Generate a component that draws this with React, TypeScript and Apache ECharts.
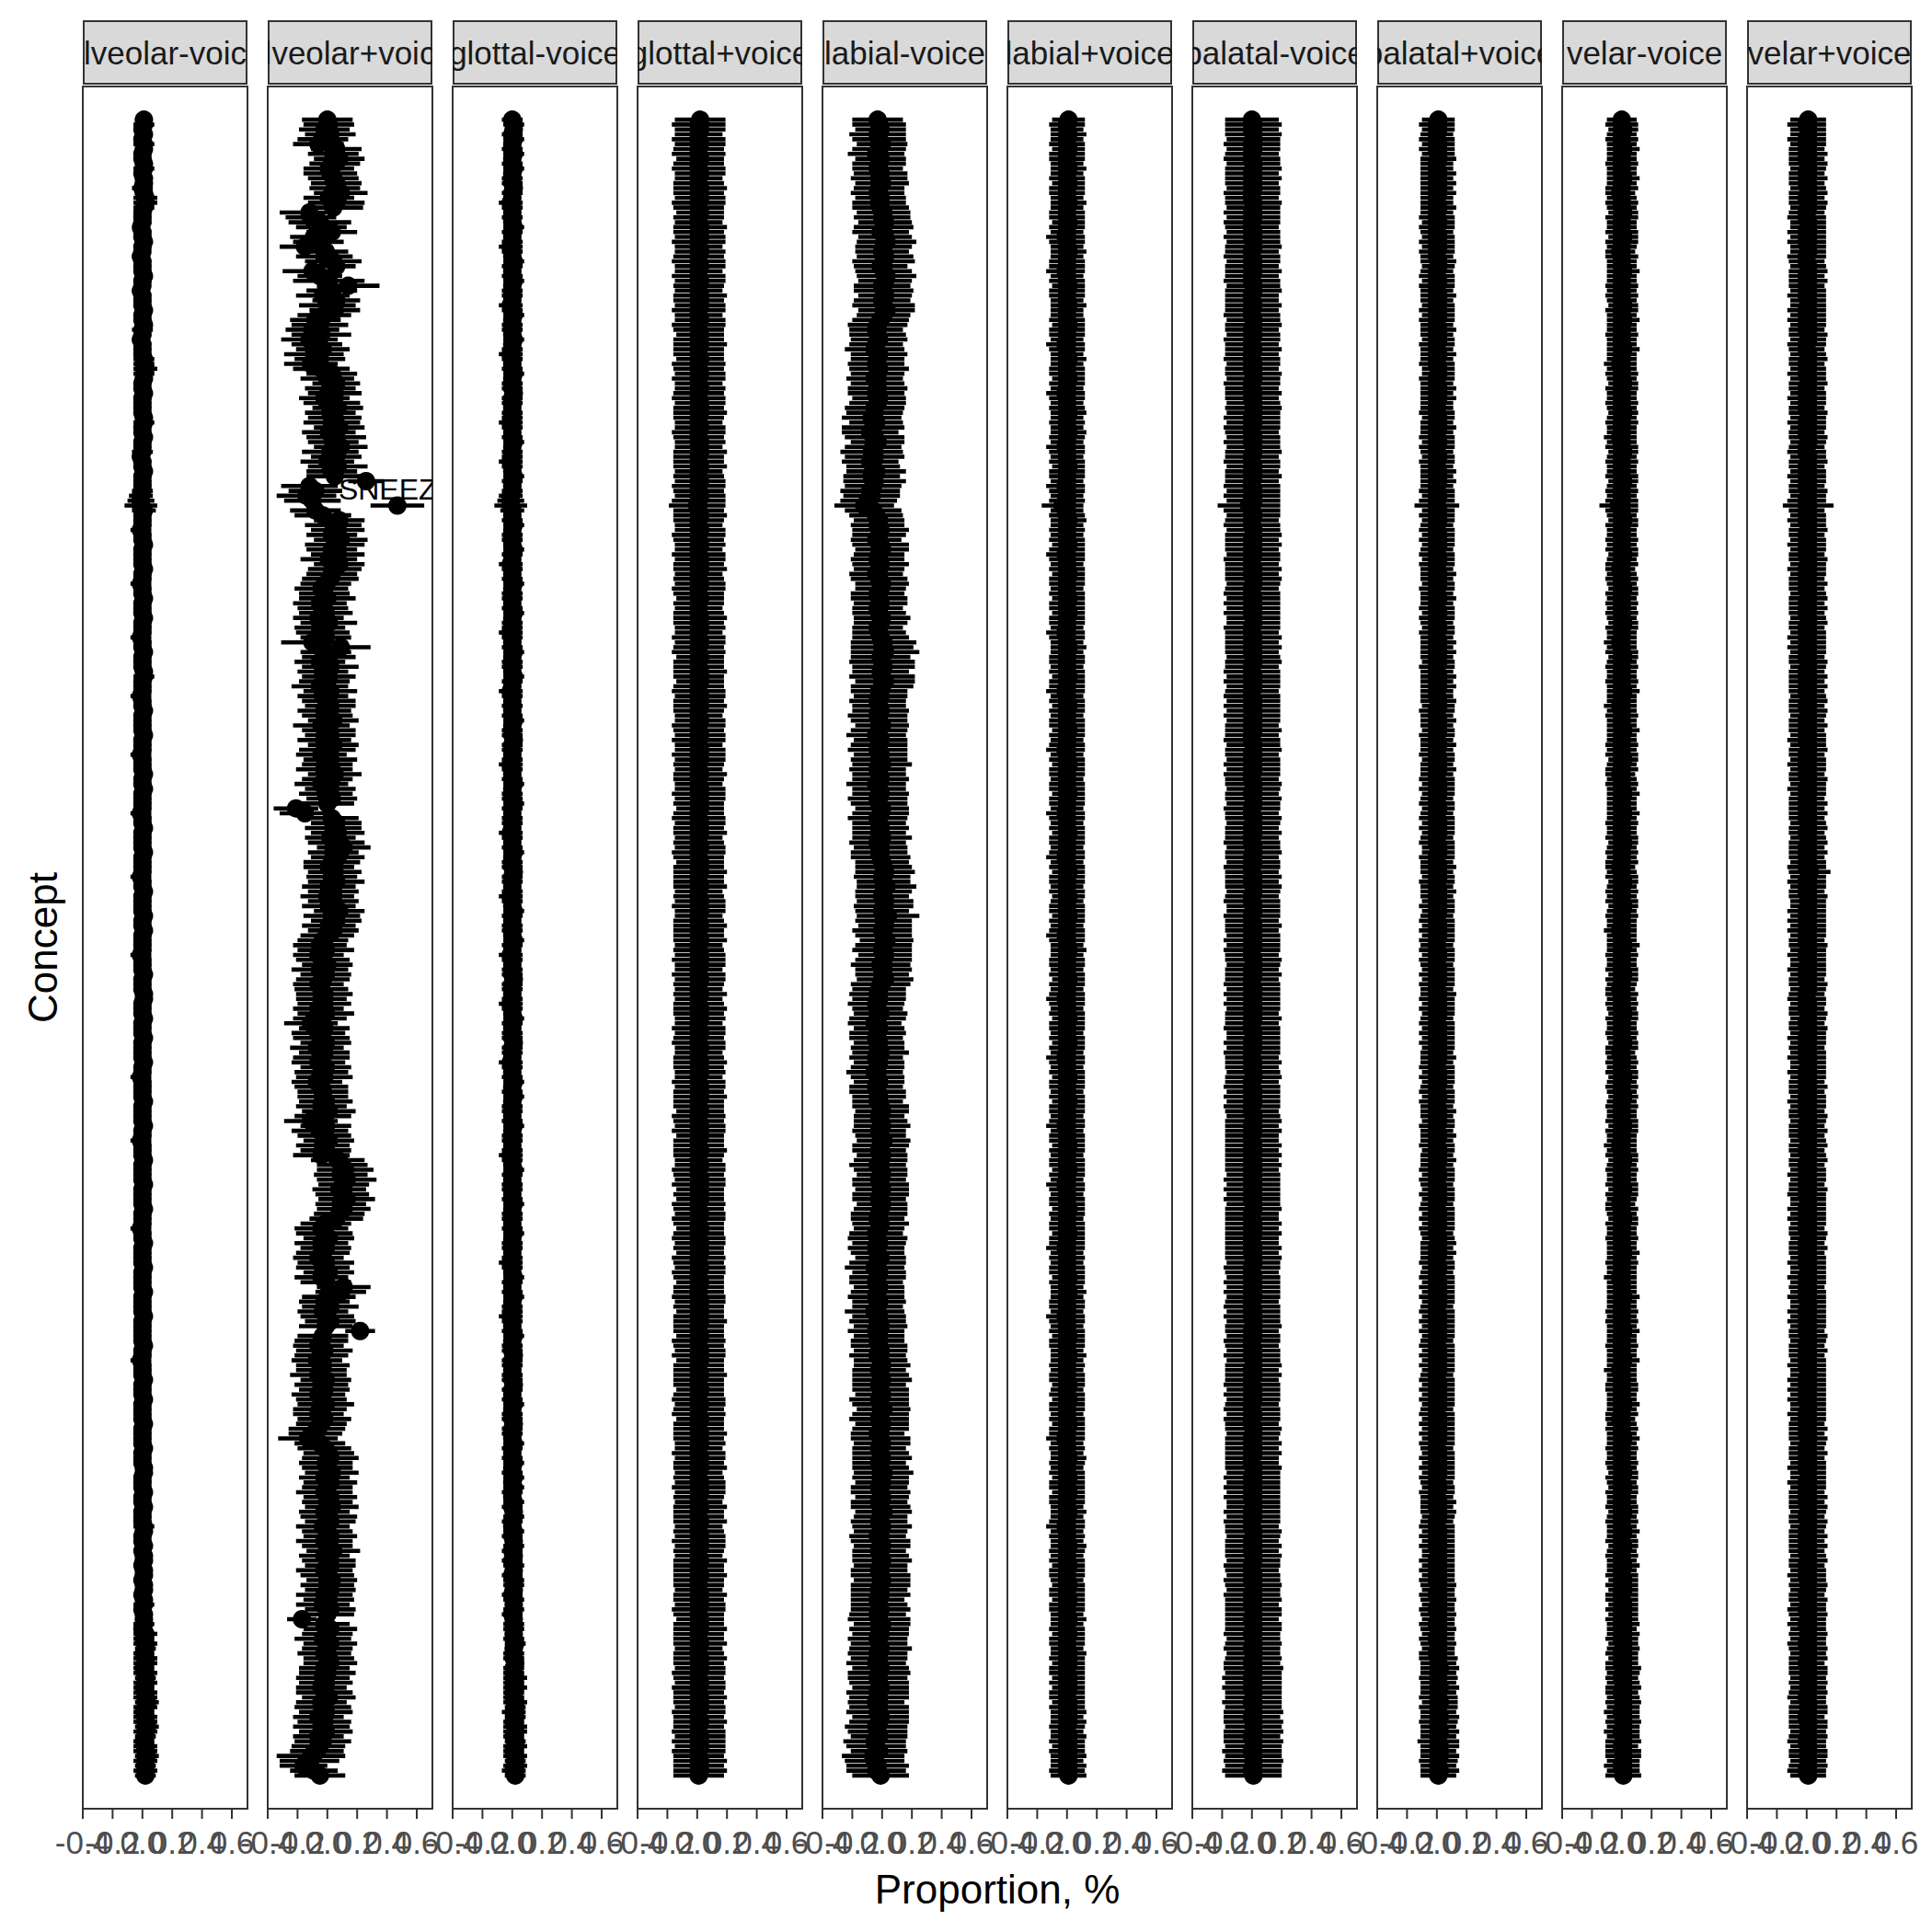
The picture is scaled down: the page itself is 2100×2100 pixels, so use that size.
import React, { useEffect, useRef } from "react";
import * as echarts from "echarts";

// Facet (panel) names, left to right
const facets = [
  "alveolar-voice", "alveolar+voice", "glottal-voice", "glottal+voice", "labial-voice",
  "labial+voice", "palatal-voice", "palatal+voice", "velar-voice", "velar+voice",
];
const xTicks = [-0.4, -0.2, 0, 0.2, 0.4, 0.6];
const labelText = "SNEEZE";
const labelFacet = 1;
const labelRow = 79;

// Per-concept estimates (hundredths): c = point estimate, h = half-width of the interval.
// Rows are concepts from top to bottom.
const c1 = [
  1,1,0,1,0, 1,1,0,0,1, 1,0,1,1,0, 1,2,2,1,0,
  0,0,-1,0,0, 1,0,0,-1,0, 0,0,1,0,0, -1,0,0,0,1,
  0,0,1,0,0, -1,0,0,0,1, 1,2,1,1,0, 0,1,0,0,0,
  0,1,1,0,0, 1,0,0,0,-1, 0,0,1,0,0, 0,0,-1,-1,-1,
  1,0,0,0,-1, 0,0,1,0,0, 0,0,1,0,0, -1,0,0,1,0,
  0,0,1,0,0, 0,-1,0,0,1, 0,0,0,1,1, 0,0,0,-1,0,
  0,1,0,0,0, 0,1,0,0,0, -1,0,0,0,1, 0,0,1,0,0,
  0,0,-1,0,0, 1,0,0,0,0, 1,0,0,0,0, -1,0,0,1,0,
  0,0,0,1,0, 0,1,0,0,0, 0,-1,0,0,0, 1,0,0,0,1,
  1,0,0,0,1, 0,0,0,1,0, 0,0,0,1,0, 0,-1,0,0,0,
  0,1,0,0,0, 0,1,0,0,-1, 0,0,0,1,0, 0,0,0,1,0,
  0,0,0,1,0, 0,0,-1,0,0, 1,0,0,0,0, 1,0,0,0,0,
  1,0,0,0,0, 1,0,0,0,0, 0,1,0,0,-1, 0,0,0,1,0,
  0,0,1,0,0, 0,0,1,0,0, 0,0,1,0,0, 0,1,1,0,0,
  0,1,0,0,1, 0,0,0,1,1, 0,0,1,0,1, 1,0,1,1,0,
  1,1,0,1,1, 0,1,1,1,0, 2,1,2,2,1, 2,2,1,2,2,
  2,1,2,2,3, 2,1,2,2,3, 2,2,1,2,2, 3,2,2,2,2,
];
const h1 = [
  6,7,6,6,6, 7,6,6,6,6, 7,6,6,6,7, 6,8,8,7,6,
  6,6,5,6,6, 6,6,5,6,6, 6,6,6,6,5, 6,6,6,6,6,
  6,6,6,7,6, 6,6,6,6,7, 7,8,7,6,6, 6,6,6,6,6,
  6,6,7,6,6, 6,6,6,7,6, 6,6,6,6,6, 6,7,8,9,11,
  8,6,6,6,7, 6,6,6,6,6, 6,6,6,6,6, 7,6,6,6,6,
  6,6,6,6,6, 6,7,6,6,6, 6,6,6,6,7, 6,6,6,7,6,
  6,6,6,6,6, 6,6,6,6,6, 7,6,6,6,6, 6,6,6,6,6,
  6,6,7,6,6, 6,6,6,6,6, 6,6,6,6,6, 7,6,6,6,6,
  6,6,6,6,6, 6,6,6,6,6, 6,7,6,6,6, 6,6,6,6,6,
  6,6,6,6,6, 6,6,6,6,6, 6,6,6,6,6, 6,7,6,6,6,
  6,6,6,6,6, 6,6,6,6,7, 6,6,6,6,6, 6,6,6,6,6,
  6,6,6,6,6, 6,6,7,6,6, 6,6,6,6,6, 6,6,6,6,6,
  6,6,6,6,6, 6,6,6,6,6, 6,6,6,6,7, 6,6,6,6,6,
  6,6,6,6,6, 6,6,6,6,6, 6,6,6,6,6, 6,6,6,6,6,
  6,6,6,6,6, 6,6,6,7,6, 6,6,6,6,6, 6,6,6,6,6,
  6,6,6,6,7, 6,6,6,7,6, 8,7,8,7,7, 8,8,7,8,7,
  8,7,8,8,8, 8,7,8,8,8, 8,7,7,8,8, 8,8,7,8,7,
];
const c2 = [
  0,1,-2,2,-3, -6,6,4,8,5, 1,2,4,6,5, 9,1,6,4,-12,
  -11,-5,-4,3,-9, -6,-15,-1,-2,4, 6,-10,-5,1,14, 3,-3,6,0,5,
  -2,-8,-5,-10,-4, -12,-7,-3,-9,-5, -11,-4,3,0,6, 2,5,-2,3,7,
  2,5,3,8,1, 6,4,9,2,6, 0,7,3,5,26, -12,-8,-14,-10,47,
  -8,-3,8,4,7, 3,9,5,3,7, 1,8,5,3,2, -1,-4,-2,0,-5,
  -3,-1,-6,1,-5, -3,-1,-10,9,-1, 1,-5,2,-3,1, -2,-5,2,-3,1,
  2,-2,0,4,-4, 1,2,-2,4,0, -4,2,0,-2,5, 0,-4,2,-1,3,
  0,-21,-15,3,6, 4,7,2,6,11, 4,7,3,1,5, 3,6,1,4,0,
  4,1,8,3,6, 1,4,0,-3,-5, -1,-6,-3,0,-5, -1,-3,-6,-4,-2,
  -4,-2,-6,-1,-5, -11,-2,-6,-4,-1, -7,-2,-4,-6,-1, -4,-2,-7,-4,-3,
  -3,-1,-4,1,-3, -11,-1,-5,-2,1, -3,-1,-4,7,10, 12,9,13,11,8,
  10,13,9,11,8, 6,-1,-4,-2,1, -4,-1,-3,-6,-1, -3,1,-4,-1,11,
  9,1,-2,2,-3, 0,2,-1,22,-3, -4,-6,-2,-4,-7, -3,-4,-6,-1,-4,
  -2,-6,-4,-1,-5, -6,-2,-4,-7,-8, -13,-5,-2,1,2, -1,0,3,-2,2,
  0,-2,2,0,3, -2,1,2,-3,0, 2,-2,0,4,-2, 1,2,-2,0,3,
  0,2,-2,1,-3, 2,0,-17,-2,2, 0,-3,2,0,-2, 1,2,-2,0,-3,
  -1,-4,-2,1,-4, -3,-1,-6,-2,-4, -1,-6,-3,-6,-7, -11,-12,-16,-9,-5,
];
const h2 = [
  17,17,17,17,17, 17,17,17,17,17, 17,18,17,17,17, 18,17,19,20,20,
  17,21,17,17,16, 17,17,15,19,19, 13,20,15,24,21, 17,18,16,19,17,
  18,17,19,18,20, 19,17,18,20,17, 18,19,17,18,16, 17,18,17,19,17,
  17,18,19,17,18, 20,17,18,19,17, 18,20,17,19,12, 19,18,20,19,18,
  17,19,17,19,18, 17,18,20,17,18, 19,17,18,17,19, 17,18,17,19,18,
  17,18,17,19,17, 18,17,21,20,17, 18,17,19,17,18, 17,19,18,17,18,
  17,18,17,17,19, 18,17,18,17,19, 17,18,17,19,18, 17,18,17,18,17,
  18,15,17,18,17, 19,18,17,19,18, 17,18,19,17,18, 17,19,18,17,18,
  17,18,17,19,17, 18,17,18,17,18, 19,17,18,17,19, 17,18,17,18,19,
  17,18,17,19,18, 18,17,18,19,17, 18,17,19,18,17, 18,19,17,18,17,
  17,18,17,18,19, 18,17,19,18,17, 18,17,19,18,17, 19,18,20,17,18,
  18,19,17,18,17, 18,17,18,19,17, 18,17,18,17,19, 18,17,18,17,18,
  17,18,17,19,17, 18,17,18,10,17, 18,17,19,18,17, 18,17,19,17,18,
  17,18,17,19,18, 17,18,17,19,18, 20,17,18,17,19, 18,17,18,17,18,
  17,19,18,17,18, 17,19,17,18,17, 18,19,17,18,17, 18,17,19,18,17,
  18,17,19,17,18, 17,18,10,17,18, 17,19,18,17,18, 17,18,17,19,18,
  18,17,19,18,17, 19,18,17,18,19, 18,17,19,18,18, 23,20,16,16,17,
];
const c3 = [
  0,1,1,0,1, 0,0,1,0,0, 1,0,0,0,1, 0,0,-1,0,0,
  0,0,1,0,0, 0,-1,0,0,1, 0,0,0,1,0, 0,0,0,-1,0,
  1,0,0,0,0, 1,0,0,-1,0, 0,0,1,0,0, 0,1,0,0,0,
  0,0,-1,0,0, 0,1,0,0,0, -1,0,0,1,0, 0,0,-1,-1,-1,
  0,0,0,1,0, 0,0,0,1,0, 0,-1,0,0,0, 1,0,0,0,0,
  0,1,0,0,0, -1,0,0,0,1, 0,0,0,0,1, 0,0,-1,0,0,
  0,0,0,1,0, 0,0,1,0,0, 0,0,-1,0,0, 0,1,0,0,0,
  1,0,0,0,0, 0,-1,0,0,0, 1,0,0,0,1, 0,0,0,0,-1,
  0,0,1,0,0, 0,0,0,1,0, 0,-1,0,0,0, 0,1,0,0,0,
  0,-1,0,0,1, 0,0,0,0,1, 0,0,0,-1,0, 0,0,1,0,0,
  1,0,0,0,0, 0,1,0,0,0, 0,0,-1,0,0, 1,0,0,0,0,
  0,0,1,0,0, 0,0,0,1,0, 0,0,0,0,-1, 0,0,1,0,0,
  0,1,0,0,0, -1,0,0,0,1, 0,0,0,1,0, 0,0,0,0,1,
  0,0,0,1,0, 0,0,1,0,0, 0,1,0,0,0, 1,0,0,1,0,
  1,0,0,1,0, 1,1,0,0,1, 0,1,1,0,1, 0,1,1,0,1,
  1,1,0,1,1, 1,0,1,1,1, 1,1,2,1,1, 1,2,1,1,2,
  1,2,1,1,2, 2,1,2,1,2, 2,1,2,2,1, 2,2,2,1,2,
];
const h3 = [
  7,7,6,7,7, 6,7,7,6,7, 7,6,7,7,6, 7,6,8,7,6,
  7,6,7,7,6, 7,8,7,6,7, 7,6,7,7,6, 7,7,6,8,7,
  7,6,7,7,6, 7,6,7,8,7, 6,7,7,6,7, 7,6,7,7,6,
  7,7,8,7,6, 7,7,6,7,7, 8,7,6,7,7, 6,7,8,9,11,
  8,6,7,7,6, 7,7,6,7,7, 6,8,7,6,7, 7,6,7,7,6,
  7,7,6,7,7, 8,7,6,7,7, 6,7,7,6,7, 7,6,8,7,6,
  7,6,7,7,6, 7,7,6,7,7, 6,7,8,7,6, 7,7,6,7,7,
  7,7,6,7,7, 6,8,7,6,7, 7,6,7,7,6, 7,7,6,7,8,
  7,6,7,7,6, 7,7,6,7,7, 6,8,7,6,7, 7,6,7,7,6,
  7,8,7,6,7, 7,6,7,7,6, 7,7,6,8,7, 6,7,7,6,7,
  7,6,7,7,6, 7,7,6,7,7, 6,7,8,7,6, 7,7,6,7,7,
  6,7,7,6,7, 7,6,7,7,6, 7,7,6,7,8, 7,6,7,7,6,
  7,7,6,7,7, 8,7,6,7,7, 6,7,7,6,7, 7,6,7,7,6,
  7,6,7,7,6, 7,7,6,7,7, 6,7,7,6,7, 7,6,7,7,6,
  7,7,6,7,7, 6,7,7,6,7, 7,6,7,7,6, 7,7,6,7,7,
  7,6,7,7,6, 7,7,6,7,7, 6,7,7,6,7, 7,6,7,7,8,
  7,8,7,7,8, 7,8,7,7,8, 8,7,7,8,7, 8,7,8,8,7,
];
const c4 = [
  2,1,2,1,1, 2,1,1,2,1, 1,2,1,1,2, 1,2,1,1,2,
  1,1,2,1,2, 1,1,2,1,1, 2,1,1,2,1, 1,2,1,2,1,
  1,2,1,1,2, 1,2,1,1,2, 1,1,2,1,1, 2,1,1,2,1,
  2,1,1,2,1, 1,2,1,2,1, 1,2,1,1,2, 1,1,2,1,0,
  1,2,1,1,2, 1,1,2,1,1, 2,1,2,1,1, 2,1,1,2,1,
  1,1,2,1,2, 1,1,2,1,1, 2,1,1,2,1, 2,1,1,2,1,
  2,1,1,2,1, 1,2,1,1,2, 1,2,1,1,2, 1,1,2,1,2,
  1,2,1,1,2, 1,2,1,1,2, 1,1,2,1,2, 1,1,2,1,1,
  2,1,2,1,1, 2,1,1,2,1, 1,2,1,2,1, 1,2,1,1,2,
  1,1,2,1,2, 1,1,2,1,1, 2,1,1,2,1, 2,1,1,2,1,
  2,1,1,2,1, 1,2,1,2,1, 1,2,1,1,2, 1,1,2,1,2,
  1,2,1,1,2, 1,1,2,1,1, 2,1,2,1,1, 2,1,1,2,1,
  1,1,2,1,2, 1,2,1,1,2, 1,1,2,1,2, 1,1,2,1,1,
  2,1,1,2,1, 1,2,1,1,2, 1,2,1,1,2, 1,2,1,1,2,
  1,2,1,1,2, 1,1,2,1,1, 2,1,2,1,1, 2,1,1,2,1,
  1,1,2,1,2, 1,1,2,1,2, 1,1,2,1,1, 2,1,2,1,1,
  2,1,1,2,1, 2,1,1,2,1, 1,2,1,2,1, 1,2,1,2,1,
];
const h4 = [
  17,18,17,16,18, 17,17,18,16,17, 18,17,16,17,18, 17,17,18,17,16,
  17,16,18,17,17, 18,16,17,17,18, 17,16,18,17,17, 16,18,17,17,18,
  16,17,18,17,16, 17,18,17,17,16, 18,17,17,18,16, 17,17,18,17,17,
  18,17,16,17,18, 17,17,16,18,17, 17,18,16,17,17, 18,17,17,18,19,
  17,18,17,16,17, 18,17,17,16,18, 17,17,18,16,17, 17,18,17,16,17,
  16,17,18,17,17, 16,18,17,17,18, 16,17,17,18,17, 16,17,18,17,17,
  18,17,16,17,18, 17,17,18,16,17, 18,17,17,16,18, 17,16,17,18,17,
  17,16,17,18,17, 17,18,16,17,17, 18,17,16,17,18, 17,17,18,16,17,
  17,18,17,16,17, 18,17,17,18,16, 17,17,18,17,16, 18,17,17,16,18,
  16,17,18,17,17, 16,18,17,17,18, 17,16,17,18,17, 17,16,18,17,17,
  18,17,17,16,18, 17,17,18,16,17, 17,18,17,16,17, 18,17,17,18,16,
  17,16,18,17,17, 18,17,16,17,18, 17,17,16,18,17, 17,18,17,16,17,
  17,18,17,17,16, 17,18,17,17,16, 18,17,17,18,16, 17,17,18,17,17,
  16,17,18,17,17, 18,16,17,17,18, 17,17,16,18,17, 17,18,16,17,17,
  18,17,17,16,18, 17,17,18,16,17, 17,18,17,17,16, 18,17,17,18,17,
  17,16,18,17,17, 18,17,16,17,18, 17,17,18,16,17, 18,17,17,18,17,
  17,18,17,18,17, 17,18,17,18,17, 18,17,18,17,18, 17,18,17,18,17,
];
const c5 = [
  -3,-2,-1,-3,-2, 0,-2,-4,-1,-2, -3,-1,-2,0,-2, -3,-1,-2,-1,1,
  0,2,1,-1,2, 3,1,0,2,1, -1,1,3,2,0, 1,2,0,1,3,
  1,-1,-3,-4,-3, -2,-4,-5,-2,-3, -4,-2,-3,-5,-3, -3,-4,-2,-3,-5,
  -5,-7,-4,-6,-8, -5,-3,-6,-7,-5, -8,-6,-4,-7,-5, -6,-8,-7,-9,-12,
  -6,-4,-2,-3,-1, -2,-4,-1,0,-2, -3,-1,-2,-4,-2, 0,-1,-3,-2,-1,
  -3,-2,0,-1,-3, -2,-1,1,0,2, -1,0,1,-1,0, 2,0,-2,-1,-3,
  -2,-1,-3,-2,0, -2,-4,-1,-2,-3, -1,-2,0,-3,-2, -1,-4,-2,-1,-3,
  -2,0,-1,-3,-2, -1,-2,0,-3,-1, -2,-1,0,1,2, 0,1,3,1,0,
  2,1,0,4,1, 2,0,1,3,1, 0,2,1,-1,1, 0,2,-1,-2,-3,
  -2,-4,-3,-1,-3, -5,-2,-3,-4,-2, -3,-1,-4,-2,-3, -5,-3,-2,-4,-3,
  -2,-3,-1,0,-2, -1,0,-2,-1,1, -1,-2,0,-1,-3, -1,0,-2,-1,0,
  -1,-2,0,-1,-2, -3,-1,-2,-4,-3, -2,-4,-3,-1,-3, -5,-2,-3,-4,-2,
  -3,-4,-2,-3,-5, -2,-3,-1,-4,-2, -3,-2,-1,-3,-1, 0,-2,-1,0,-2,
  -1,0,-2,-1,1, -1,-2,0,-1,-3, -1,0,-2,-1,0, -2,-1,1,-1,0,
  -2,-1,0,-2,-1, 1,-1,-2,0,-1, -3,-1,0,-2,-1, 0,-1,-2,-1,0,
  -1,-2,-1,-3,-2, -1,-3,-2,0,-2, -1,-3,-2,-1,-3, -2,-4,-1,-2,-3,
  -2,-1,-3,-2,-4, -2,-3,-1,-2,-4, -3,-2,-5,-4,-2, -6,-5,-3,-4,-1,
];
const h5 = [
  17,18,17,19,18, 17,18,19,17,18, 17,18,19,18,17, 18,17,18,19,18,
  19,18,20,19,18, 20,19,18,19,21, 18,19,20,18,19, 20,18,19,21,19,
  18,19,20,18,19, 19,18,20,19,18, 19,20,18,19,18, 20,19,18,19,20,
  19,20,18,21,19, 20,18,19,21,20, 19,18,20,19,21, 19,20,19,19,20,
  19,18,17,18,19, 18,17,19,18,17, 18,19,17,18,19, 18,17,18,19,18,
  17,18,19,18,17, 18,19,22,21,23, 20,22,21,19,22, 20,21,19,18,19,
  18,19,20,19,18, 19,20,18,19,20, 18,19,20,19,18, 19,20,18,19,20,
  19,18,19,20,18, 19,18,20,19,18, 19,20,18,19,20, 19,18,20,19,18,
  19,20,18,21,19, 18,20,19,18,19, 20,18,19,20,19, 18,19,20,18,19,
  18,19,17,18,19, 18,17,19,18,17, 18,19,18,17,18, 19,18,17,18,19,
  18,17,19,18,17, 18,19,18,17,18, 19,18,17,18,19, 18,17,18,19,18,
  19,18,17,18,19, 18,19,17,18,20, 18,19,18,17,19, 20,18,19,18,17,
  18,19,18,17,20, 18,19,18,19,17, 18,19,18,19,18, 19,18,19,20,18,
  19,18,20,19,18, 19,20,18,19,18, 20,19,18,19,20, 18,19,20,19,18,
  19,20,18,19,20, 19,18,19,20,18, 19,20,19,18,19, 20,18,19,20,19,
  20,19,20,18,19, 20,19,21,19,20, 19,20,19,21,20, 19,20,19,21,20,
  20,19,21,20,19, 20,21,19,20,21, 20,19,21,20,19, 21,20,21,20,19,
];
const c6 = [
  1,0,0,1,0, 0,1,0,0,0, 1,0,0,1,0, 0,0,1,0,0,
  0,1,0,0,-1, 0,0,1,0,0, 0,-1,0,0,1, 0,0,0,1,0,
  0,0,1,0,0, 0,-1,0,0,1, 0,0,0,1,0, 0,-1,0,0,0,
  1,0,0,0,1, 0,0,-1,0,0, 0,1,0,0,0, -1,0,0,0,-3,
  0,0,1,0,0, 0,0,1,0,-1, 0,0,0,1,0, 0,0,0,1,0,
  0,1,0,0,0, -1,0,0,1,0, 0,0,0,0,1, 0,0,-1,0,0,
  1,0,0,0,0, 1,0,0,0,-1, 0,0,1,0,0, 0,0,0,1,0,
  0,0,-1,0,0, 0,1,0,0,0, 0,-1,0,0,1, 0,0,0,0,1,
  0,0,0,1,0, 0,0,-1,0,0, 1,0,0,0,0, 0,1,0,0,0,
  -1,0,0,0,1, 0,0,0,0,1, 0,0,-1,0,0, 0,1,0,0,0,
  0,1,0,0,0, 0,-1,0,0,0, 1,0,0,0,0, 1,0,0,-1,0,
  0,0,0,1,0, 0,0,0,1,0, 0,-1,0,0,0, 0,0,1,0,0,
  1,0,0,0,0, -1,0,0,0,1, 0,0,0,1,0, 0,0,0,0,1,
  0,0,1,0,0, 0,0,1,0,0, -1,0,0,0,1, 0,0,0,1,0,
  0,1,0,0,0, 1,0,0,-1,0, 0,0,1,0,0, 0,1,0,0,0,
  1,0,0,1,0, 0,0,1,0,0, 1,0,0,0,1, 0,1,0,0,1,
  0,1,0,0,1, 0,1,0,1,0, 0,1,0,1,0, 1,0,1,0,1,
];
const h6 = [
  11,12,11,12,11, 12,11,12,12,11, 12,11,12,11,12, 12,11,12,11,12,
  12,11,12,11,13, 12,11,12,11,12, 12,13,11,12,11, 12,12,11,12,11,
  11,12,11,12,12, 11,13,12,11,12, 11,12,12,11,12, 11,13,12,11,12,
  12,11,12,11,12, 12,11,13,12,11, 12,11,12,12,11, 13,12,11,12,14,
  11,12,12,11,12, 11,12,11,12,13, 12,11,12,11,12, 12,11,12,11,12,
  12,11,12,12,11, 13,12,11,12,11, 12,12,11,12,11, 12,12,13,11,12,
  11,12,11,12,12, 11,12,11,12,13, 11,12,11,12,12, 11,12,12,11,12,
  12,11,13,12,11, 12,11,12,12,11, 12,13,11,12,11, 12,12,11,12,11,
  11,12,12,11,12, 11,12,13,12,11, 12,11,12,12,11, 12,11,12,11,12,
  13,12,11,12,11, 12,12,11,12,11, 12,11,13,12,11, 12,11,12,12,11,
  12,11,12,12,11, 12,13,11,12,12, 11,12,11,12,12, 11,12,11,13,12,
  11,12,12,11,12, 11,12,12,11,12, 12,13,11,12,11, 12,12,11,12,11,
  12,11,12,12,11, 13,12,11,12,11, 12,12,11,12,11, 12,11,12,12,11,
  11,12,11,12,12, 11,12,11,12,12, 13,11,12,11,12, 12,11,12,11,12,
  12,11,12,12,11, 12,11,12,13,11, 12,11,12,12,11, 12,11,12,12,11,
  11,12,12,11,12, 12,11,12,11,12, 11,12,12,11,12, 12,11,12,12,11,
  12,11,12,12,11, 12,12,11,12,12, 11,12,12,11,12, 12,11,12,12,12,
];
const c7 = [
  0,1,0,1,1, 0,1,0,0,1, 1,0,1,0,1, 0,0,1,1,0,
  1,0,0,1,0, 1,1,0,0,1, 0,1,0,0,1, 1,0,0,1,0,
  0,1,1,0,1, 0,0,1,0,0, 1,0,1,1,0, 0,1,0,1,1,
  1,0,1,0,0, 1,0,1,1,0, 0,1,0,1,0, 0,1,0,1,-2,
  0,1,0,0,1, 1,0,1,0,1, 0,0,1,0,1, 1,0,0,1,0,
  1,0,1,1,0, 0,1,0,1,0, 1,1,0,0,1, 0,1,0,0,1,
  0,1,0,1,0, 1,0,0,1,1, 0,1,0,1,0, 0,1,1,0,1,
  1,0,0,1,1, 0,1,0,0,1, 1,0,1,0,0, 1,0,1,1,0,
  0,1,1,0,0, 1,0,1,0,1, 0,0,1,1,0, 1,0,0,1,0,
  1,0,1,0,1, 0,0,1,1,0, 1,0,0,1,0, 1,1,0,0,1,
  0,1,0,0,1, 1,0,1,0,0, 1,0,1,0,1, 0,1,0,1,0,
  1,0,1,1,0, 0,1,0,1,0, 0,1,0,1,1, 0,0,1,0,1,
  0,1,0,0,1, 0,1,1,0,1, 0,0,1,0,1, 1,0,1,0,0,
  1,0,1,0,0, 1,0,0,1,1, 0,1,0,1,0, 0,1,1,0,1,
  0,1,0,1,1, 0,1,0,0,1, 1,0,1,0,1, 1,0,0,1,0,
  1,1,0,1,0, 1,1,0,1,1, 0,1,1,0,1, 1,0,1,1,0,
  1,0,1,1,0, 1,1,0,1,1, 1,0,1,1,0, 1,1,1,0,1,
];
const h7 = [
  18,19,18,19,18, 19,18,18,19,18, 19,18,19,18,18, 19,18,19,18,19,
  18,19,18,18,19, 18,19,18,19,18, 18,19,18,19,18, 19,18,18,19,18,
  19,18,19,18,18, 19,18,19,18,19, 18,18,19,18,19, 18,19,18,18,19,
  18,19,18,19,18, 18,19,18,19,18, 19,18,18,19,18, 19,18,19,18,21,
  19,18,18,19,18, 19,18,19,18,18, 19,18,19,18,19, 18,18,19,18,19,
  18,19,18,18,19, 18,19,18,19,18, 18,19,18,19,18, 19,18,18,19,18,
  19,18,19,18,18, 19,18,19,18,19, 18,18,19,18,19, 18,19,18,18,19,
  18,19,18,19,18, 18,19,18,19,18, 19,18,18,19,18, 19,18,19,18,18,
  19,18,18,19,18, 19,18,18,19,18, 19,18,19,18,18, 19,18,19,18,19,
  18,19,18,18,19, 18,19,18,18,19, 18,19,18,19,18, 18,19,18,19,18,
  19,18,19,18,18, 19,18,19,18,18, 19,18,19,18,19, 18,18,19,18,19,
  18,19,18,19,18, 18,19,18,19,18, 18,19,18,19,18, 19,18,18,19,18,
  19,18,18,19,18, 19,18,19,18,18, 19,18,18,19,18, 19,18,19,18,19,
  18,19,18,18,19, 18,19,18,19,18, 18,19,18,19,18, 18,19,18,19,18,
  19,18,19,18,18, 19,18,19,18,19, 18,18,19,18,19, 18,19,18,18,19,
  19,18,19,19,18, 19,19,18,19,19, 19,18,19,19,18, 19,19,20,19,20,
  19,20,19,19,20, 19,20,19,20,19, 20,19,20,19,20, 19,20,19,20,19,
];
const c8 = [
  1,0,1,0,0, 1,0,1,1,0, 0,1,0,1,0, 1,0,0,1,0,
  0,1,0,0,1, 0,1,0,0,1, 1,0,0,1,0, 0,1,0,1,0,
  1,0,0,1,0, 1,0,0,1,0, 0,1,1,0,0, 1,0,1,0,0,
  0,1,0,1,0, 0,1,0,0,1, 0,0,1,0,1, 0,0,1,0,0,
  1,0,1,0,0, 1,0,1,0,0, 1,0,0,1,0, 1,0,0,1,0,
  0,1,0,0,1, 0,0,1,0,1, 0,1,0,0,1, 0,1,0,0,1,
  1,0,0,1,0, 1,0,0,1,0, 0,1,0,1,0, 0,1,0,1,0,
  0,1,0,0,1, 0,1,0,0,1, 1,0,0,1,0, 1,0,0,1,0,
  1,0,1,0,0, 1,0,1,0,0, 0,1,0,0,1, 0,1,0,0,1,
  0,1,0,1,0, 0,1,0,1,0, 1,0,1,0,0, 1,0,1,0,0,
  1,0,0,1,0, 1,0,0,1,0, 0,1,0,1,0, 0,1,0,0,1,
  0,1,0,0,1, 0,1,0,0,1, 1,0,1,0,0, 1,0,0,1,0,
  1,0,1,0,0, 1,0,1,0,1, 0,0,1,0,1, 0,1,0,0,1,
  0,1,0,1,0, 0,1,0,1,0, 1,0,0,1,0, 1,0,1,0,0,
  1,0,0,1,0, 1,1,0,0,1, 0,1,0,1,1, 0,1,0,1,0,
  1,1,0,1,1, 0,1,1,0,1, 1,0,1,1,0, 1,1,2,1,1,
  1,2,1,1,2, 1,1,2,1,1, 2,1,1,2,1, 2,1,1,2,1,
];
const h8 = [
  11,12,11,11,12, 11,12,11,12,11, 11,12,11,12,11, 12,11,11,12,11,
  12,11,12,11,11, 12,11,12,11,12, 11,11,12,11,12, 11,12,11,11,12,
  11,12,11,12,11, 11,12,11,12,11, 12,11,11,12,11, 12,11,12,11,11,
  12,11,11,12,11, 12,11,12,11,11, 12,11,12,11,12, 11,12,11,12,15,
  11,12,11,11,12, 11,12,11,11,12, 11,12,11,12,11, 11,12,11,12,11,
  12,11,12,11,11, 12,11,12,11,12, 11,11,12,11,12, 11,12,11,11,12,
  11,12,11,12,11, 11,12,11,12,11, 12,11,11,12,11, 12,11,12,11,11,
  12,11,11,12,11, 12,11,11,12,11, 11,12,11,12,11, 11,12,11,12,11,
  11,12,11,11,12, 11,12,11,12,11, 12,11,12,11,11, 12,11,12,11,12,
  12,11,12,11,11, 12,11,12,11,12, 11,11,12,11,12, 11,12,11,11,12,
  11,12,11,12,11, 11,12,11,12,11, 12,11,11,12,11, 12,11,12,11,11,
  12,11,11,12,11, 12,11,12,11,11, 12,11,12,11,12, 11,11,12,11,12,
  11,12,11,11,12, 11,12,11,12,11, 11,12,11,12,11, 12,11,11,12,11,
  12,11,12,11,11, 12,11,12,11,12, 11,12,11,11,12, 11,12,11,12,11,
  11,12,11,12,11, 12,11,11,12,11, 12,11,12,11,11, 12,11,12,11,12,
  12,11,12,12,11, 12,12,11,12,12, 11,12,12,11,12, 13,12,13,12,13,
  12,13,12,13,12, 13,12,13,13,12, 13,12,14,13,12, 13,13,12,13,12,
];
const c9 = [
  0,0,1,0,0, 0,1,0,0,0, 0,0,1,0,0, -1,0,0,0,1,
  0,0,0,0,1, 0,0,-1,0,0, 0,1,0,0,0, 0,0,0,1,0,
  0,1,0,0,0, 0,0,1,0,0, -1,0,0,0,1, 0,0,0,0,0,
  1,0,0,0,0, -1,0,0,1,0, 0,0,0,0,1, 0,0,0,0,-2,
  0,0,1,0,0, 0,0,0,0,1, 0,0,-1,0,0, 0,1,0,0,0,
  0,0,0,1,0, 0,0,-1,0,0, 1,0,0,0,0, 0,0,1,0,0,
  -1,0,0,0,0, 1,0,0,0,0, 0,1,0,0,-1, 0,0,0,1,0,
  0,0,1,0,0, 0,0,0,1,0, 0,0,0,-1,0, 0,1,0,0,0,
  0,1,0,0,0, 0,-1,0,0,1, 0,0,0,0,0, 1,0,0,-1,0,
  0,0,0,1,0, 0,0,0,0,1, 0,-1,0,0,0, 0,1,0,0,0,
  1,0,0,0,0, 0,1,0,0,0, -1,0,0,1,0, 0,0,0,0,1,
  0,0,-1,0,0, 1,0,0,0,0, 0,0,1,0,0, 0,0,-1,0,0,
  0,1,0,0,0, 0,0,0,1,0, 0,0,0,0,1, 0,-1,0,0,0,
  0,0,0,1,0, 0,-1,0,0,0, 1,0,0,0,0, 0,0,1,0,0,
  1,0,0,0,0, 1,0,0,0,1, 0,0,1,0,0, 0,1,0,0,1,
  0,1,0,0,1, 0,1,0,1,0, 1,0,1,1,0, 1,0,1,1,0,
  1,1,0,1,1, 1,0,1,1,1, 0,1,1,0,1, 1,1,0,1,1,
];
const h9 = [
  10,11,10,10,11, 10,11,10,10,11, 10,10,11,10,11, 10,10,11,10,10,
  11,10,10,11,10, 11,10,10,11,10, 10,11,10,10,11, 10,11,10,10,11,
  10,11,10,10,11, 10,10,11,10,10, 11,10,11,10,10, 11,10,10,11,10,
  10,10,11,10,10, 11,10,11,10,10, 11,10,10,11,10, 10,11,10,11,13,
  11,10,10,11,10, 10,11,10,11,10, 10,11,10,10,11, 10,10,11,10,11,
  10,11,10,10,11, 10,10,11,10,11, 10,10,11,10,10, 11,10,11,10,10,
  11,10,11,10,10, 11,10,10,11,10, 11,10,10,11,10, 10,11,10,11,10,
  10,10,11,10,11, 10,10,11,10,10, 11,10,11,10,10, 11,10,10,11,10,
  11,10,10,11,10, 10,11,10,10,11, 10,11,10,10,11, 10,11,10,10,11,
  10,11,10,10,11, 10,10,11,10,10, 11,10,10,11,10, 11,10,10,11,10,
  10,10,11,10,10, 11,10,11,10,10, 11,10,11,10,10, 11,10,10,11,10,
  11,10,10,11,10, 10,11,10,10,11, 10,10,11,10,11, 10,10,11,10,10,
  10,11,10,10,11, 10,11,10,11,10, 10,11,10,10,11, 10,11,10,10,11,
  11,10,10,11,10, 11,10,10,11,10, 11,10,11,10,10, 11,10,10,11,10,
  10,11,10,10,11, 10,10,11,10,11, 10,11,10,10,11, 10,11,10,11,10,
  11,10,11,11,10, 11,10,11,11,10, 11,11,10,11,11, 10,11,12,11,11,
  11,12,11,11,12, 11,12,11,12,11, 12,11,12,11,12, 12,11,12,11,12,
];
const c10 = [
  1,0,1,1,0, 1,0,1,0,1, 1,0,1,0,1, 1,0,1,1,0,
  0,1,1,0,1, 0,1,1,0,0, 1,1,0,1,0, 1,0,1,1,0,
  1,0,1,0,1, 1,0,0,1,1, 0,1,0,1,1, 0,1,0,1,0,
  1,1,0,1,0, 1,1,0,0,1, 1,0,1,0,1, 0,1,1,0,1,
  0,1,0,1,1, 0,1,0,1,0, 1,1,0,1,0, 1,0,1,1,0,
  1,0,1,1,0, 1,0,1,0,1, 0,1,1,0,1, 0,1,0,1,1,
  0,1,1,0,1, 0,1,0,1,1, 0,1,0,1,0, 1,1,0,1,0,
  1,0,1,0,1, 1,0,1,1,0, 1,0,1,0,2, 1,0,1,0,1,
  1,1,0,1,0, 1,0,1,0,1, 1,0,1,1,0, 1,0,1,1,0,
  0,1,0,1,1, 0,1,1,0,1, 0,1,0,1,1, 0,1,0,1,0,
  1,0,1,0,1, 1,0,1,0,1, 1,0,1,1,0, 1,0,1,0,1,
  0,1,1,0,1, 0,1,0,1,1, 0,1,0,1,0, 1,1,0,1,0,
  1,0,1,1,0, 1,0,1,0,1, 1,0,1,0,1, 0,1,1,0,1,
  0,1,0,1,1, 0,1,0,1,0, 1,1,0,1,0, 1,0,1,1,0,
  1,0,1,0,1, 1,0,1,1,0, 1,0,1,0,1, 1,0,1,0,1,
  1,1,0,1,1, 0,1,1,0,1, 1,1,0,1,1, 1,0,1,1,1,
  1,1,1,0,1, 1,1,0,1,1, 1,1,0,1,1, 1,1,1,0,1,
];
const h10 = [
  12,13,12,12,13, 12,12,13,12,13, 12,12,13,12,12, 13,12,13,12,12,
  13,12,12,13,12, 13,12,12,13,12, 12,13,12,13,12, 12,13,12,12,13,
  12,13,12,12,13, 12,13,12,12,13, 12,12,13,12,13, 12,12,13,12,12,
  13,12,13,12,12, 13,12,12,13,12, 13,12,12,13,12, 12,13,12,13,17,
  12,12,13,12,13, 12,12,13,12,12, 13,12,13,12,12, 13,12,12,13,12,
  13,12,12,13,12, 12,13,12,13,12, 12,13,12,12,13, 12,13,12,12,13,
  12,13,12,12,13, 12,12,13,12,13, 12,12,13,12,12, 13,12,13,12,12,
  13,12,13,12,12, 13,12,12,13,12, 13,12,12,13,14, 12,13,12,12,13,
  12,12,13,12,13, 12,13,12,12,13, 12,13,12,12,13, 12,12,13,12,12,
  13,12,12,13,12, 12,13,12,13,12, 12,12,13,12,12, 13,12,12,13,12,
  12,13,12,12,13, 12,12,13,12,12, 13,12,12,13,12, 12,13,12,12,13,
  13,12,12,13,12, 13,12,12,13,12, 12,13,12,12,13, 12,12,13,12,12,
  12,13,12,12,13, 12,13,12,12,13, 12,12,13,12,12, 13,12,12,13,12,
  13,12,13,12,12, 13,12,12,13,12, 13,12,12,13,12, 12,13,12,12,13,
  12,12,13,12,13, 12,12,13,12,12, 13,12,13,12,12, 13,12,12,13,12,
  13,12,12,13,12, 13,13,12,13,12, 13,12,13,13,12, 13,12,13,13,12,
  13,12,13,13,12, 13,13,12,13,13, 12,13,13,12,13, 13,12,13,13,12,
];

const centres = [c1, c2, c3, c4, c5, c6, c7, c8, c9, c10];
const halfWidths = [h1, h2, h3, h4, h5, h6, h7, h8, h9, h10];

const FONT = "Liberation Sans";
const fmtTick = (v: number) => (Math.abs(v) < 1e-9 ? 0 : v).toFixed(1);

export default function App() {
  const ref = useRef<HTMLDivElement>(null);

  useEffect(() => {
    document.body.style.margin = "0";
    const chart = echarts.init(ref.current!, null, { renderer: "svg" });

    const nRows = Math.max(...centres.map((a) => a.length));
    const pad = 6.8;
    const panelTop = 94;
    const panelHeight = 1872;
    const panelWidth = 179;
    const pitch = 201;
    const left0 = 90;

    const grids: any[] = [];
    const xAxes: any[] = [];
    const yAxes: any[] = [];
    const series: any[] = [];

    facets.forEach((name, k) => {
      const left = left0 + pitch * k;
      grids.push({
        left, top: panelTop, width: panelWidth, height: panelHeight,
        show: true, borderColor: "#333333", borderWidth: 2, backgroundColor: "#ffffff",
      });
      xAxes.push({
        gridIndex: k, type: "value", min: -0.4, max: 0.705, interval: 0.2, show: false,
        splitLine: { show: false },
      });
      yAxes.push({
        gridIndex: k, type: "value", inverse: true, min: -pad, max: nRows - 1 + pad, show: false,
        splitLine: { show: false },
      });
    });

    // strip grids
    facets.forEach((name, k) => {
      const left = left0 + pitch * k;
      grids.push({ left, top: 22, width: panelWidth, height: 70, show: false });
      xAxes.push({ gridIndex: 10 + k, type: "value", min: 0, max: 1, show: false, splitLine: { show: false } });
      yAxes.push({ gridIndex: 10 + k, type: "value", min: 0, max: 1, show: false, splitLine: { show: false } });
    });

    facets.forEach((name, k) => {
      const cs = centres[k];
      const hs = halfWidths[k];
      const barData = cs.map((c, i) => [i, (c - hs[i]) / 100, (c + hs[i]) / 100]);
      const ptData = cs.map((c, i) => [c / 100, i]);
      series.push({
        type: "custom", xAxisIndex: k, yAxisIndex: k, clip: true, silent: true,
        data: barData, encode: { x: [1, 2], y: 0 },
        renderItem: (params: any, api: any) => {
          const r = api.value(0);
          const a = api.coord([api.value(1), r]);
          const b = api.coord([api.value(2), r]);
          return {
            type: "line",
            shape: { x1: a[0], y1: a[1], x2: b[0], y2: b[1] },
            style: { stroke: "#000000", lineWidth: 4.6 },
          };
        },
        z: 2,
      });
      series.push({
        type: "scatter", xAxisIndex: k, yAxisIndex: k, silent: true,
        data: ptData, symbol: "circle", symbolSize: 20,
        itemStyle: { color: "#000000", opacity: 1 },
        clip: true, z: 3,
      });
      // x-axis ticks and labels, placed through the panel's own x scale
      series.push({
        type: "custom", xAxisIndex: k, yAxisIndex: k, clip: false, silent: true,
        data: xTicks.map((v) => [v, 0]), encode: { x: 0, y: 1 },
        renderItem: (params: any, api: any) => {
          const v = api.value(0);
          const p = api.coord([v, 0]);
          const c = params.coordSys;
          const yb = c.y + c.height;
          return {
            type: "group",
            children: [
              { type: "line", shape: { x1: p[0], y1: yb, x2: p[0], y2: yb + 11 }, style: { stroke: "#333333", lineWidth: 2 } },
              {
                type: "text", x: p[0], y: yb + 19,
                style: { text: fmtTick(v), fontSize: 35, fontFamily: FONT, fill: "#4D4D4D", align: "center", verticalAlign: "top" },
              },
            ],
          };
        },
        z: 5,
      });
      // strip
      series.push({
        type: "custom", xAxisIndex: 10 + k, yAxisIndex: 10 + k, clip: true, silent: true,
        data: [[0.5, 0.5]],
        renderItem: (params: any) => {
          const c = params.coordSys;
          return {
            type: "group",
            children: [
              {
                type: "rect",
                shape: { x: c.x + 1, y: c.y + 1, width: c.width - 2, height: c.height - 2 },
                style: { fill: "#D9D9D9", stroke: "#333333", lineWidth: 2 },
              },
              {
                type: "text",
                x: c.x + c.width / 2,
                y: c.y + c.height / 2,
                style: {
                  text: name, fontSize: 35, fontFamily: FONT, fill: "#1A1A1A",
                  align: "center", verticalAlign: "middle",
                },
              },
            ],
          };
        },
      });
    });

    // outlier label
    series.push({
      type: "custom", xAxisIndex: labelFacet, yAxisIndex: labelFacet, clip: true, silent: true,
      data: [[centres[labelFacet][labelRow] / 100, labelRow]],
      renderItem: (params: any, api: any) => {
        const p = api.coord([api.value(0), api.value(1)]);
        return {
          type: "text", x: p[0], y: p[1] - 18,
          style: { text: labelText, fontSize: 32, fontFamily: FONT, fill: "#000000", align: "center", verticalAlign: "middle" },
        };
      },
      z: 4,
    });

    chart.setOption({
      animation: false,
      backgroundColor: "#ffffff",
      grid: grids,
      xAxis: xAxes,
      yAxis: yAxes,
      series,
      graphic: [
        {
          type: "text", x: left0 + (pitch * 9 + panelWidth) / 2, y: 2053,
          style: { text: "Proportion, %", fontSize: 44, fontFamily: FONT, fill: "#000000", align: "center", verticalAlign: "middle" },
        },
        {
          type: "text", x: 46, y: panelTop + panelHeight / 2, rotation: Math.PI / 2,
          style: { text: "Concept", fontSize: 44, fontFamily: FONT, fill: "#000000", align: "center", verticalAlign: "middle" },
        },
      ],
    });

    return () => chart.dispose();
  }, []);

  return <div ref={ref} style={{ position: "absolute", left: 0, top: 0, width: 2100, height: 2100 }} />;
}
